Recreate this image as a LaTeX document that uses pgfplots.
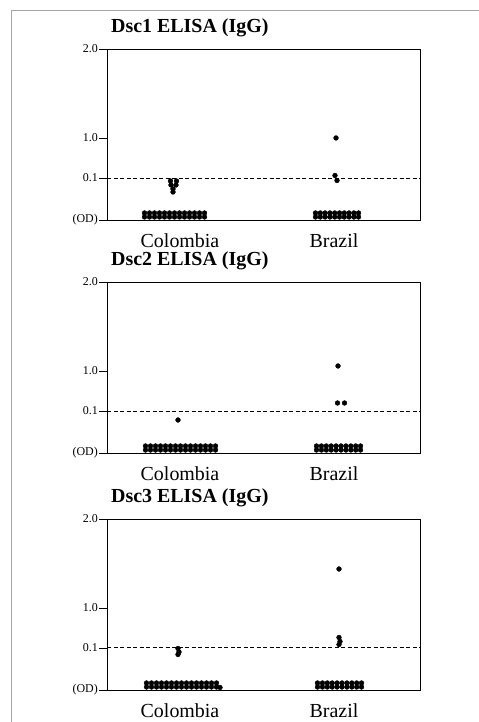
\documentclass[border=0pt]{standalone}
\usepackage{fontspec}
\setmainfont{Liberation Serif}
\usepackage{pgfplots}
\pgfplotsset{compat=1.18}
\pgfplotsset{
  elisa/.style={
    scale only axis, width=313bp, height=171bp,
    xmin=0, xmax=313, ymin=0, ymax=171,
    axis line style={line width=0.6bp, black},
    xtick={73,227}, xticklabels={Colombia,Brazil},
    x tick label style={font=\fontsize{20}{20}\selectfont, anchor=north, inner sep=0pt, yshift=-5bp},
    major x tick style={draw=none},
    ytick={0,42,82,171}, yticklabels={\textrm{(OD)},\textrm{0.1},\textrm{1.0},\textrm{2.0}},
    y tick label style={font=\fontsize{12}{12}\selectfont, inner sep=1bp},
    ytick pos=left, tick align=outside, major tick length=8bp,
    y tick style={line width=0.5bp, black},
    title style={font=\fontsize{20}{20}\selectfont\bfseries, at={(0,1)}, anchor=base west, inner sep=0pt, xshift=4bp, yshift=11bp},
    clip=false,
  },
  dots/.style={only marks, mark=*, mark size=2.4bp, black},
  cut/.style={dashed, line width=0.6bp, black, dash pattern=on 4bp off 2.5bp},
}
\begin{document}
\begin{tikzpicture}[x=1bp,y=1bp]
\useasboundingbox (0,0) rectangle (479,722);
\draw[gray!70, line width=0.6bp] (11,0) -- (11,712) -- (479,712);
% Panel 1
\begin{axis}[elisa, at={(107,502)}, anchor=south west, title={Dsc1 ELISA (IgG)}]
\addplot[cut] coordinates {(0,42) (313,42)};
\addplot[dots] coordinates {
(37.5,3)(42.5,3)(47.5,3)(52.5,3)(57.5,3)(62.5,3)(67.5,3)(72.5,3)(77.5,3)(82.5,3)(87.5,3)(92.5,3)(97.5,3)
(37.5,7)(42.5,7)(47.5,7)(52.5,7)(57.5,7)(62.5,7)(67.5,7)(72.5,7)(77.5,7)(82.5,7)(87.5,7)(92.5,7)(97.5,7)
(63.5,39)(69.5,39)(64,35)(69,35)(66,31)(66,28)};
\addplot[dots] coordinates {
(208.5,3)(213.3,3)(218.1,3)(222.9,3)(227.7,3)(232.5,3)(237.3,3)(242.1,3)(246.9,3)(251.5,3)
(208.5,7)(213.3,7)(218.1,7)(222.9,7)(227.7,7)(232.5,7)(237.3,7)(242.1,7)(246.9,7)(251.5,7)
(229,82)(228,44.5)(230,39.5)};
\end{axis}
% Panel 2
\begin{axis}[elisa, at={(107,269)}, anchor=south west, title={Dsc2 ELISA (IgG)}]
\addplot[cut] coordinates {(0,42) (313,42)};
\addplot[dots] coordinates {
(38.5,3)(43.5,3)(48.5,3)(53.5,3)(58.5,3)(63.5,3)(68.5,3)(73.5,3)(78.5,3)(83.5,3)(88.5,3)(93.5,3)(98.5,3)(103.5,3)(108.5,3)
(38.5,7)(43.5,7)(48.5,7)(53.5,7)(58.5,7)(63.5,7)(68.5,7)(73.5,7)(78.5,7)(83.5,7)(88.5,7)(93.5,7)(98.5,7)(103.5,7)(108.5,7)
(71,33)};
\addplot[dots] coordinates {
(209.5,3)(214.4,3)(219.3,3)(224.2,3)(229.1,3)(234,3)(238.9,3)(243.8,3)(248.7,3)(253.5,3)
(209.5,7)(214.4,7)(219.3,7)(224.2,7)(229.1,7)(234,7)(238.9,7)(243.8,7)(248.7,7)(253.5,7)
(231,87)(230.5,50)(237.5,50)};
\end{axis}
% Panel 3
\begin{axis}[elisa, at={(107,32)}, anchor=south west, title={Dsc3 ELISA (IgG)}]
\addplot[cut] coordinates {(0,43) (313,43)};
\addplot[dots] coordinates {
(39.5,3)(44.5,3)(49.5,3)(54.5,3)(59.5,3)(64.5,3)(69.5,3)(74.5,3)(79.5,3)(84.5,3)(89.5,3)(94.5,3)(99.5,3)(104.5,3)(109.5,3)
(39.5,7)(44.5,7)(49.5,7)(54.5,7)(59.5,7)(64.5,7)(69.5,7)(74.5,7)(79.5,7)(84.5,7)(89.5,7)(94.5,7)(99.5,7)(104.5,7)(109.5,7)
(113,2.5)(71,41.5)(72,38)(71,35.5)};
\addplot[dots] coordinates {
(210.5,3)(215.4,3)(220.3,3)(225.2,3)(230.1,3)(235,3)(239.9,3)(244.8,3)(249.7,3)(254.5,3)
(210.5,7)(215.4,7)(220.3,7)(225.2,7)(230.1,7)(235,7)(239.9,7)(244.8,7)(249.7,7)(254.5,7)
(232,121)(232,52.5)(233,48.5)(232,45.5)};
\end{axis}
\end{tikzpicture}
\end{document}
